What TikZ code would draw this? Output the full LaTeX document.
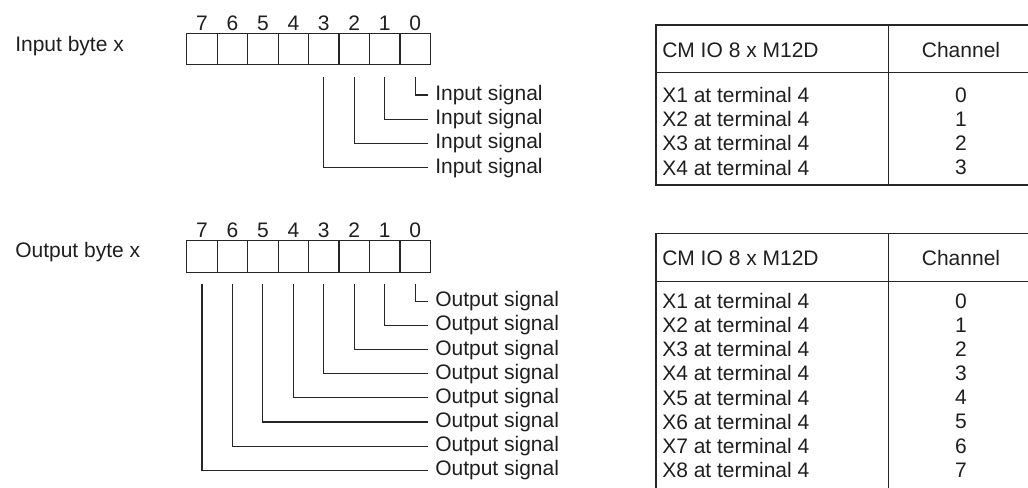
\documentclass[tikz,border=0pt]{standalone}
\usepackage{fontspec}
\setmainfont{Liberation Sans}
\begin{document}
\begin{tikzpicture}[x=0.75pt,y=-0.75pt,
  font=\fontsize{15.75pt}{19pt}\selectfont,
  txt/.style={inner sep=0pt, text=black!88},
  cell/.style={draw=black!85, line width=0.9pt, minimum width=22.84pt, minimum height=23.6pt, inner sep=0pt},
  wire/.style={draw=black!85, line width=0.8pt},
  tline/.style={draw=black!85, line width=0.9pt}]
\useasboundingbox (0,0) rectangle (1028,488);
\clip (0,0) rectangle (1028,488);
% byte labels
\node[txt, anchor=west] (inlabel) at (15,46) {Input byte x};
\node[txt, anchor=west] (outlabel) at (15,252.5) {Output byte x};
% bit cells and digits
\foreach \b in {0,...,7} {
  \pgfmathsetmacro\cx{186.8+(7.5-\b)*30.45}
  \node[cell] (in\b) at (\cx,49) {};
  \node[txt] (ind\b) at (\cx,23.5) {\b};
  \node[cell] (out\b) at (\cx,256.5) {};
  \node[txt] (outd\b) at (\cx,230.5) {\b};
}
% input signals
\foreach \b in {0,...,3} {
  \pgfmathsetmacro\ry{95+\b*24.2}
  \node[txt, anchor=west] (isig\b) at (435,\ry) {Input signal};
  \draw[wire] ([yshift=-9pt]in\b.south) |- ([xshift=-5.5pt]isig\b.west);
}
% output signals
\foreach \b in {0,...,7} {
  \pgfmathsetmacro\ry{301.3+\b*24.14}
  \node[txt, anchor=west] (osig\b) at (435,\ry) {Output signal};
  \draw[wire] ([yshift=-8.5pt]out\b.south) |- ([xshift=-5.5pt]osig\b.west);
}
% top table
\draw[tline] (1040,25) -- (656,25) -- (656,185) -- (1040,185);
\draw[tline] (656,72.3) -- (1040,72.3);
\draw[tline] (888.3,25) -- (888.3,185);
\node[txt, anchor=west] (th1) at (662,50) {CM IO 8 x M12D};
\node[txt] (th2) at (961,50) {Channel};
\foreach \k in {0,...,3} {
  \pgfmathsetmacro\ry{95+\k*24.2}
  \pgfmathtruncatemacro\xn{\k+1}
  \node[txt, anchor=west] (ta\k) at (662,\ry) {X\xn\ at terminal 4};
  \node[txt] (tb\k) at (961,\ry) {\k};
}
% bottom table
\draw[tline] (656,495) -- (656,233.3) -- (1040,233.3);
\draw[tline] (656,281.7) -- (1040,281.7);
\draw[tline] (888.3,233.3) -- (888.3,495);
\node[txt, anchor=west] (bh1) at (662,258.3) {CM IO 8 x M12D};
\node[txt] (bh2) at (961,258.3) {Channel};
\foreach \k in {0,...,7} {
  \pgfmathsetmacro\ry{301+\k*24.14}
  \pgfmathtruncatemacro\xn{\k+1}
  \node[txt, anchor=west] (ba\k) at (662,\ry) {X\xn\ at terminal 4};
  \node[txt] (bb\k) at (961,\ry) {\k};
}
\end{tikzpicture}
\end{document}
